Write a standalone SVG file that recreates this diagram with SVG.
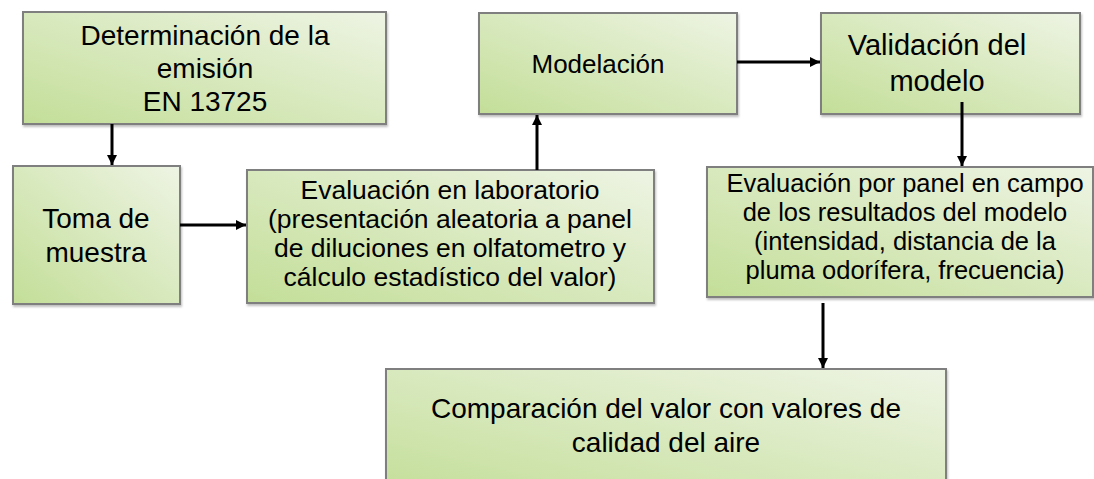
<svg xmlns="http://www.w3.org/2000/svg" width="1094" height="479" viewBox="0 0 1094 479" xml:space="preserve">
<defs>
<linearGradient id="g" x1="0" y1="1" x2="1" y2="0">
<stop offset="0" stop-color="#c3de98"/>
<stop offset="1" stop-color="#eef4e4"/>
</linearGradient>
<filter id="sh" x="-5%" y="-5%" width="115%" height="120%">
<feDropShadow dx="1" dy="2" stdDeviation="1.2" flood-color="#000" flood-opacity="0.25"/>
</filter>
<marker id="ah" markerUnits="userSpaceOnUse" markerWidth="12" markerHeight="12" refX="10" refY="5" orient="auto">
<path d="M0,0 L10,5 L0,10 Z" fill="#000"/>
</marker>
<style>
.box{fill:url(#g);stroke:#7f7f7f;stroke-width:2;filter:url(#sh)}
.t{font-family:"Liberation Sans",Arial,sans-serif;fill:#000;text-anchor:middle}
.l{fill:none;stroke:#000;stroke-width:3;marker-end:url(#ah)}
</style>
</defs>
<g id="n1">
<rect class="box" x="23" y="12" width="363" height="112"/>
<text class="t" font-size="28"><tspan x="205" y="45">Determinación  de la</tspan><tspan x="205" y="78">emisión</tspan><tspan x="205" y="111">EN 13725</tspan></text>
</g>
<g id="n2">
<rect class="box" x="13" y="166" width="167" height="138"/>
<text class="t" font-size="28"><tspan x="96" y="228">Toma  de</tspan><tspan x="96" y="262">muestra</tspan></text>
</g>
<g id="n3">
<rect class="box" x="247" y="170" width="407" height="133"/>
<text class="t" font-size="26.5"><tspan x="450" y="199">Evaluación  en laboratorio</tspan><tspan x="450" y="228">(presentación aleatoria a panel</tspan><tspan x="450" y="257">de diluciones en olfatometro y</tspan><tspan x="450" y="286">cálculo estadístico  del valor)</tspan></text>
</g>
<g id="n4">
<rect class="box" x="479" y="13" width="258" height="101"/>
<text class="t" font-size="26"><tspan x="598" y="73">Modelación</tspan></text>
</g>
<g id="n5">
<rect class="box" x="821" y="13" width="259" height="101"/>
<text class="t" font-size="29"><tspan x="937" y="55">Validación  del</tspan><tspan x="937" y="91">modelo</tspan></text>
</g>
<g id="n6">
<rect class="box" x="707" y="167" width="386" height="130"/>
<text class="t" font-size="25.5"><tspan x="905" y="192">Evaluación por panel en campo</tspan><tspan x="905" y="221">de los resultados del modelo</tspan><tspan x="905" y="250">(intensidad, distancia de la</tspan><tspan x="905" y="279">pluma odorífera, frecuencia)</tspan></text>
</g>
<g id="n7">
<rect class="box" x="386" y="369" width="560" height="130"/>
<text class="t" font-size="28"><tspan x="666" y="418">Comparación  del valor con valores de</tspan><tspan x="666" y="452">calidad  del aire</tspan></text>
</g>
<g id="connectors">
<line class="l" x1="112" y1="124" x2="112" y2="165"/>
<line class="l" x1="180" y1="225" x2="246" y2="225"/>
<line class="l" x1="537" y1="170" x2="537" y2="115"/>
<line class="l" x1="737" y1="62" x2="820" y2="62"/>
<line class="l" x1="962" y1="102" x2="962" y2="166"/>
<line class="l" x1="823" y1="303" x2="823" y2="368"/>
</g>
</svg>
